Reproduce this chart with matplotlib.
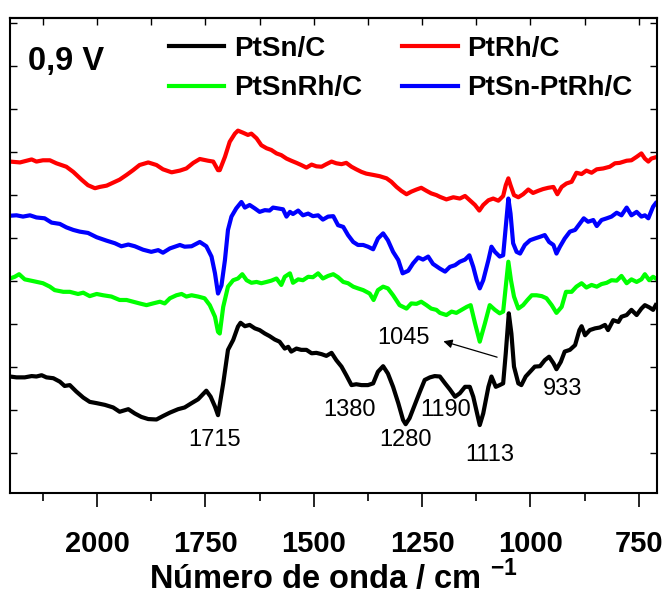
import matplotlib
matplotlib.use("Agg")
import matplotlib.pyplot as plt
from matplotlib.ticker import MultipleLocator, NullFormatter
import numpy as np

plt.rcParams['font.family'] = ['Liberation Sans', 'DejaVu Sans']
plt.rcParams['mathtext.fontset'] = 'custom'
plt.rcParams['mathtext.rm'] = 'Liberation Sans'
plt.rcParams['mathtext.bf'] = 'Liberation Sans:bold'

# ---- data (wavenumber, intensity in arbitrary offset units) ----
red_wn = [2201,2178,2151,2140,2125,2109,2094,2071,2055,2036,2021,2005,1994,1978,1963,1948,1932,1917,1902,1882,1863,1848,1828,1809,1794,1778,1763,1744,1732,1721,
          1717,1705,1694,1682,1675,1663,1652,1644,1632,1621,1609,1598,1586,1575,1563,1552,1540,1529,1517,1505,1494,1482,1471,1459,1448,1436,1425,1413,1402,1390,1379,1363,1348,1332,1321,1309,1298,1286,1275,1263,1252,1240,1229,1217,
          1209,1194,1178,1163,1151,1140,1128,1118,1109,1097,1086,1074,1063,1057,1051,1046,1038,1028,1017,1005,994,982,971,959,947,938,928,917,905,894,882,871,859,847,832,817,805,794,778,767,755,744,736,728,721,711]
red_val = [6.78,6.76,6.83,6.78,6.81,6.81,6.74,6.66,6.54,6.36,6.23,6.16,6.19,6.22,6.29,6.36,6.47,6.58,6.70,6.76,6.70,6.60,6.53,6.57,6.62,6.75,6.84,6.80,6.78,6.58,
           6.58,6.89,7.24,7.43,7.50,7.45,7.40,7.43,7.32,7.16,7.09,7.05,6.97,6.93,6.85,6.80,6.75,6.70,6.64,6.71,6.67,6.66,6.72,6.78,6.74,6.72,6.75,6.66,6.60,6.54,6.50,6.47,6.44,6.39,6.31,6.19,6.10,6.02,6.08,6.13,6.17,6.10,6.04,6.00,
           5.96,5.90,5.95,5.92,5.98,5.88,5.77,5.64,5.77,5.88,5.92,5.87,5.98,6.23,6.39,6.23,6.00,5.95,6.02,6.13,6.05,6.10,6.14,6.17,6.19,6.02,6.19,6.27,6.31,6.52,6.49,6.57,6.52,6.60,6.62,6.66,6.74,6.75,6.80,6.81,6.89,6.97,6.85,6.78,6.85,6.88]

blue_wn = [2201,2186,2171,2155,2140,2121,2105,2086,2071,2055,2040,2021,2001,1978,1959,1944,1928,1913,1894,1875,1859,1848,1832,1809,1798,1782,1763,1748,1736,1728,1721,
           1713,1705,1698,1690,1679,1667,1659,1648,1636,1625,1613,1602,1594,1582,1571,1563,1555,1548,1536,1525,1513,1502,1490,1479,1467,1455,1444,1432,1421,1409,1398,1386,1375,1363,1352,1340,1329,1317,1305,1295,1282,1271,1259,1248,1236,1225,
           1209,1197,1186,1174,1163,1151,1141,1132,1124,1117,1109,1097,1090,1082,1071,1063,1057,1051,1046,1040,1032,1024,1013,1001,990,978,967,957,947,940,932,921,909,897,886,877,867,855,847,836,824,813,801,790,778,767,755,744,736,728,717,711]
blue_val = [5.52,5.53,5.50,5.53,5.48,5.46,5.36,5.33,5.25,5.19,5.15,5.12,5.02,4.94,4.88,4.81,4.85,4.81,4.73,4.68,4.72,4.66,4.76,4.84,4.80,4.81,4.91,4.81,4.57,4.18,3.71,
            3.90,4.49,5.19,5.50,5.69,5.84,5.71,5.77,5.69,5.61,5.65,5.64,5.71,5.69,5.67,5.50,5.61,5.56,5.64,5.53,5.57,5.51,5.53,5.43,5.50,5.51,5.30,5.26,5.07,4.91,4.84,4.84,4.80,4.74,4.99,5.11,4.95,4.68,4.49,4.18,4.24,4.41,4.55,4.50,4.57,4.40,
            4.29,4.22,4.33,4.37,4.45,4.50,4.60,4.33,4.02,3.83,4.02,4.49,4.80,4.68,4.57,4.60,5.26,5.92,5.57,4.88,4.68,4.64,4.84,4.95,4.99,5.03,5.07,4.91,4.84,4.64,4.80,4.99,5.15,5.19,5.34,5.46,5.38,5.42,5.28,5.42,5.46,5.50,5.59,5.53,5.71,5.53,5.61,5.50,5.53,5.46,5.73,5.81]

green_wn = [2201,2190,2180,2167,2148,2125,2109,2098,2078,2063,2044,2032,2017,2001,1986,1967,1948,1932,1917,1902,1886,1871,1855,1844,1832,1817,1805,1794,1782,1767,1752,1740,1728,1721,
            1717,1709,1698,1686,1675,1665,1655,1644,1632,1621,1609,1598,1586,1575,1567,1555,1548,1536,1525,1513,1502,1490,1479,1467,1455,1444,1432,1421,1409,1398,1386,1371,1362,1352,1340,1329,1317,1302,1286,1275,1263,1252,1240,1229,1217,
            1209,1194,1182,1171,1159,1147,1138,1128,1117,1105,1094,1082,1071,1063,1057,1051,1045,1038,1028,1017,1007,997,986,974,963,951,940,928,918,905,894,882,871,859,847,836,824,813,801,790,778,767,755,744,736,726,717,711]
green_val = [4.06,4.10,4.16,4.04,4.00,3.95,3.87,3.79,3.75,3.75,3.70,3.73,3.65,3.70,3.67,3.64,3.56,3.56,3.52,3.48,3.44,3.48,3.52,3.48,3.60,3.67,3.70,3.64,3.67,3.64,3.60,3.44,3.17,2.82,
             2.78,3.40,3.87,4.02,4.06,4.16,4.02,3.96,3.98,3.95,3.98,4.01,4.06,3.91,4.10,4.18,3.96,4.04,4.02,4.10,4.09,4.18,4.06,4.12,4.16,4.09,3.98,3.95,3.87,3.83,3.79,3.71,3.56,3.79,3.87,3.83,3.67,3.44,3.36,3.48,3.47,3.52,3.44,3.36,3.33,
             3.26,3.21,3.29,3.26,3.33,3.40,3.44,3.02,2.59,3.02,3.44,3.33,3.25,3.29,3.87,4.45,4.02,3.64,3.36,3.44,3.56,3.67,3.67,3.65,3.60,3.44,3.26,3.40,3.75,3.75,3.87,3.95,3.85,3.91,3.87,3.93,3.96,4.02,4.01,4.12,3.95,4.04,3.98,4.04,4.16,4.02,4.10,4.06]

black_wn = [2201,2186,2167,2151,2140,2128,2117,2101,2086,2075,2063,2048,2032,2017,2001,1982,1963,1948,1928,1913,1898,1882,1863,1848,1832,1813,1798,1782,1767,1748,1738,1728,1721,
            1709,1698,1686,1675,1669,1659,1648,1636,1625,1613,1602,1590,1579,1567,1559,1552,1540,1529,1517,1505,1494,1482,1471,1459,1448,1436,1425,1413,1402,1390,1375,1363,1352,1340,1329,1317,1305,1294,1288,1279,1267,1255,1244,1232,1221,
            1209,1197,1186,1174,1163,1151,1140,1132,1123,1117,1109,1097,1090,1080,1071,1063,1057,1050,1044,1038,1028,1021,1011,1001,990,978,967,957,947,940,930,921,909,897,887,882,874,863,851,840,828,821,809,797,790,778,767,755,744,736,726,717,711]
black_val = [1.78,1.76,1.76,1.79,1.78,1.81,1.76,1.74,1.66,1.56,1.58,1.43,1.29,1.19,1.16,1.12,1.06,0.96,1.02,0.92,0.84,0.79,0.78,0.86,0.94,1.02,1.06,1.16,1.25,1.45,1.31,1.08,0.88,
             1.62,2.40,2.63,2.94,3.03,2.95,2.98,2.90,2.86,2.78,2.72,2.64,2.59,2.43,2.47,2.36,2.43,2.40,2.40,2.32,2.33,2.30,2.26,2.33,2.16,2.01,1.81,1.58,1.60,1.58,1.58,1.62,1.89,2.02,1.85,1.54,1.16,0.77,0.67,0.81,1.12,1.43,1.70,1.76,1.79,
             1.78,1.62,1.48,1.31,1.39,1.54,1.54,1.31,0.92,0.65,0.92,1.54,1.78,1.54,1.58,1.62,2.32,3.25,2.78,2.01,1.62,1.58,1.78,1.89,2.01,2.02,2.16,2.24,2.09,1.95,2.12,2.36,2.40,2.51,2.86,2.95,2.74,2.86,2.90,2.92,2.98,2.86,3.09,3.05,3.17,3.21,3.33,3.21,3.36,3.44,3.39,3.33,3.44]

series_labels = ["PtSn/C", "PtRh/C", "PtSnRh/C", "PtSn-PtRh/C"]
series_colors = ["#000000", "#ff0000", "#00ff00", "#0000ff"]

peak_labels = ["1715", "1380", "1280", "1190", "1113", "933"]
peak_text_wn = [1728, 1417, 1288, 1196, 1094, 925]
peak_text_y = [0.30, 1.00, 0.30, 1.00, -0.05, 1.50]
arrow_label = "1045"
arrow_text_pos = (1292, 2.67)
arrow_tip = (1201, 2.60)
arrow_tail = (1077, 2.23)

# ---- figure ----
fig = plt.figure(figsize=(6.66, 5.99), dpi=100)
ax = fig.add_axes([10/666, 1-493/599, 647/666, 475/599])

data = [(black_wn, black_val), (red_wn, red_val), (green_wn, green_val), (blue_wn, blue_val)]
handles = []
for (wn, v), lab, col in zip(data, series_labels, series_colors):
    h, = ax.plot(wn, v, color=col, lw=3.0, label=lab, solid_joinstyle='round')
    handles.append(h)

ax.set_xlim(2201, 708)
ax.set_ylim(-0.93, 10.12)

ax.xaxis.set_major_locator(MultipleLocator(250))
ax.xaxis.set_minor_locator(MultipleLocator(125))
ax.yaxis.set_major_locator(MultipleLocator(1))
ax.yaxis.set_major_formatter(NullFormatter())
ax.tick_params(axis='x', which='major', direction='out', length=10, width=1.2,
               labelsize=21, pad=17)
ax.tick_params(axis='x', which='minor', direction='out', length=6, width=1.2)
ax.tick_params(axis='y', which='both', direction='in', length=5, width=1.0,
               left=True, right=True, labelleft=False)
for lab in ax.get_xticklabels():
    lab.set_fontweight('bold')

top = ax.secondary_xaxis('top')
top.xaxis.set_major_locator(MultipleLocator(250))
top.xaxis.set_minor_locator(MultipleLocator(125))
top.tick_params(axis='x', which='both', direction='in', length=5, width=1.0,
                labeltop=False)
top.spines['top'].set_linewidth(1.5)

for s in ax.spines.values():
    s.set_linewidth(1.5)

ax.set_xlabel("Número de onda / cm $^{\\mathbf{-1}}$", fontsize=23.5, fontweight='bold', labelpad=1)

for t, x, y in zip(peak_labels, peak_text_wn, peak_text_y):
    ax.text(x, y, t, fontsize=17, ha='center', va='center')

ax.annotate(arrow_label, xy=arrow_tip, xytext=arrow_text_pos, fontsize=17,
            ha='center', va='center')
ax.annotate("", xy=arrow_tip, xytext=arrow_tail,
            arrowprops=dict(arrowstyle='-|>', color='black', lw=0.9,
                            mutation_scale=13, shrinkA=0, shrinkB=0))

ax.text(0.028, 0.908, "0,9 V", transform=ax.transAxes, fontsize=23.5,
        fontweight='bold', ha='left', va='center')

order = [0, 2, 1, 3]
ax.legend([handles[i] for i in order], [series_labels[i] for i in order],
          ncol=2, loc='upper left', bbox_to_anchor=(0.245, 0.963),
          frameon=False, prop={'weight': 'bold', 'size': 20},
          handlelength=2.0, handletextpad=0.35, columnspacing=1.45,
          labelspacing=0.5, borderpad=0, borderaxespad=0)

fig.savefig("out.png", dpi=100)
